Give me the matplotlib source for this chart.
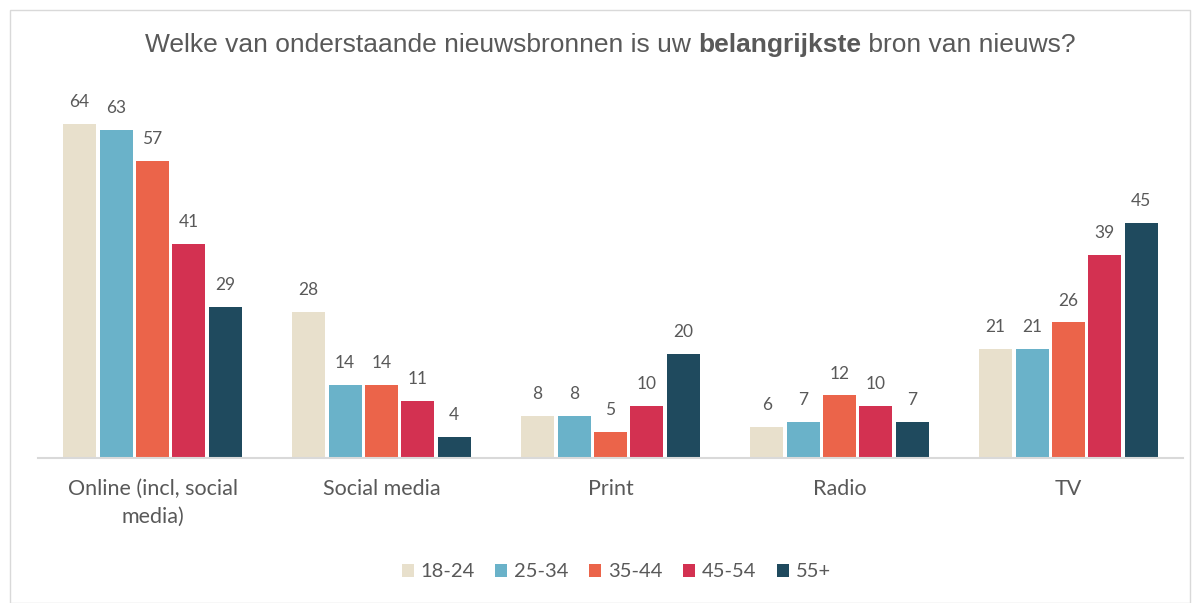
import numpy as np
import matplotlib as mpl
mpl.use('Agg')
import matplotlib.pyplot as plt
from matplotlib.patches import Rectangle

categories = ["Online (incl, social\nmedia)", "Social media", "Print", "Radio", "TV"]
groups = ["18-24", "25-34", "35-44", "45-54", "55+"]
v_18_24 = [64, 28, 8, 6, 21]
v_25_34 = [63, 14, 8, 7, 21]
v_35_44 = [57, 14, 5, 12, 26]
v_45_54 = [41, 11, 10, 10, 39]
v_55 = [29, 4, 20, 7, 45]
series = [v_18_24, v_25_34, v_35_44, v_45_54, v_55]
colors = ["#E8E0CC", "#6AB2C9", "#EB644A", "#D33151", "#1F4A5E"]

txt = "#595959"
plt.rcParams['font.family'] = ['Lato', 'DejaVu Sans']

fig = plt.figure(figsize=(11.98, 6.03), dpi=100)
fig.patches.append(Rectangle((10/1198, 0), 1180/1198, 593/603, transform=fig.transFigure,
                             fill=False, edgecolor="#D9D9D9", linewidth=1))

ax = fig.add_axes([38/1198, 145/603, 1145/1198, 365/603])
x = np.arange(len(categories))
step = 0.159
width = 0.144
for i, (vals, col, lab) in enumerate(zip(series, colors, groups)):
    pos = x + (i - 2) * step
    bars = ax.bar(pos, vals, width, color=col, label=lab)
    for p, v in zip(pos, vals):
        ax.annotate(str(v), (p, v), xytext=(0, 10), textcoords="offset points",
                    ha="center", va="bottom", fontsize=12.5, color=txt)

ax.set_xlim(-0.5, 4.5)
ax.set_ylim(0, 70)
ax.set_yticks([])
ax.set_xticks(x)
ax.set_xticklabels(categories, fontsize=15.5, color=txt, linespacing=1.5)
ax.tick_params(axis="x", length=0, pad=15)
for s in ["top", "right", "left"]:
    ax.spines[s].set_visible(False)
ax.spines["bottom"].set_color("#D9D9D9")
ax.spines["bottom"].set_linewidth(1.5)

ax.legend(loc="center", bbox_to_anchor=(0.505, -0.312), ncol=5, frameon=False,
          fontsize=14.5, labelcolor=txt, handlelength=0.6, handleheight=0.6,
          handletextpad=0.35, columnspacing=1.0)

# title with one bold word
parts = [("Welke van onderstaande nieuwsbronnen is uw ", "normal"),
         ("belangrijkste", "bold"),
         (" bron van nieuws?", "normal")]
fig.canvas.draw()
r = fig.canvas.get_renderer()
texts = []
for s, w in parts:
    t = fig.text(0, 1 - 45/603, s, fontsize=19, fontweight=w, color=txt,
                 family=['Liberation Sans', 'DejaVu Sans'], va="center", ha="left")
    texts.append(t)
widths = [t.get_window_extent(r).width for t in texts]
x0 = 610 - sum(widths) / 2
for t, w in zip(texts, widths):
    t.set_x(x0 / 1198)
    x0 += w

fig.savefig("out.png", dpi=100)
